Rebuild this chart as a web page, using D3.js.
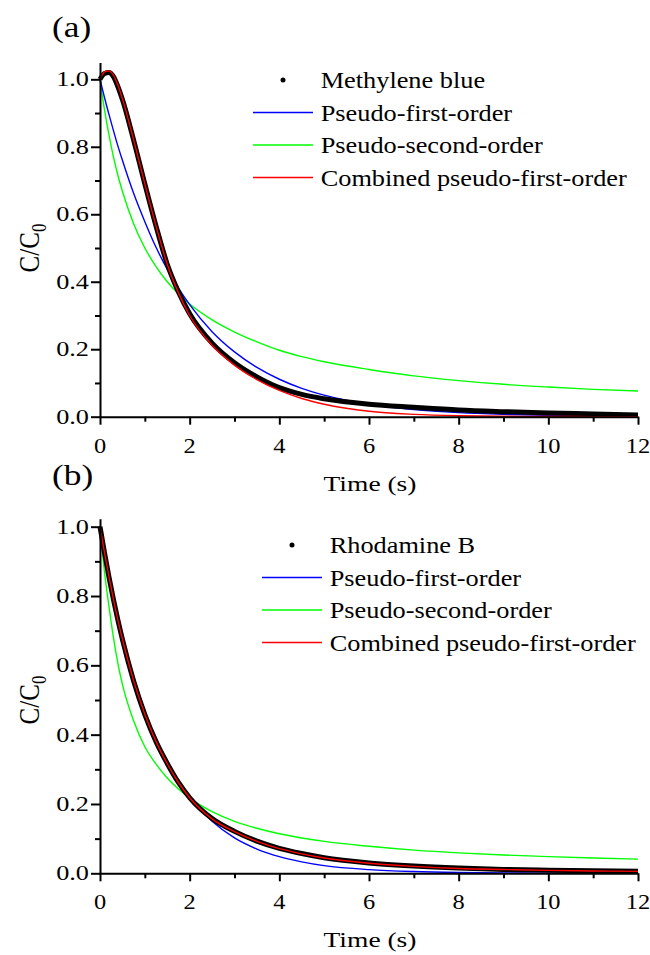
<!DOCTYPE html>
<html>
<head>
<meta charset="utf-8">
<style>
  body { margin: 0; background: #fff; }
  text { font-family: "Liberation Serif", "Times New Roman", serif; fill: #000; }
</style>
</head>
<body>
<svg width="650" height="955"></svg>
<script src="https://d3js.org/d3.v7.min.js"></script>
<script>
// time axis (s)
let time = [0, 0.1, 0.2, 0.3, 0.4, 0.5, 0.75, 1, 1.25, 1.5, 1.75, 2, 2.5, 3, 3.5, 4, 4.5, 5, 6, 7, 8, 9, 10, 11, 12];

// (a) methylene blue
let mbData     = [1.0, 1.017, 1.02, 1.008, 0.978, 0.94, 0.82, 0.69, 0.565, 0.452, 0.37, 0.305, 0.218, 0.16, 0.118, 0.086, 0.066, 0.053, 0.037, 0.028, 0.02, 0.015, 0.011, 0.008, 0.005];
let mbFirst    = [1.0, 0.946, 0.896, 0.848, 0.802, 0.76, 0.662, 0.578, 0.502, 0.437, 0.381, 0.332, 0.252, 0.192, 0.146, 0.111, 0.084, 0.064, 0.037, 0.021, 0.012, 0.007, 0.004, 0.0024, 0.0014];
let mbSecond   = [1.0, 0.91, 0.835, 0.77, 0.715, 0.668, 0.572, 0.5, 0.445, 0.4, 0.364, 0.334, 0.287, 0.251, 0.222, 0.197, 0.178, 0.163, 0.14, 0.121, 0.107, 0.096, 0.088, 0.081, 0.076];
let mbCombined = [1.0, 1.022, 1.025, 1.012, 0.982, 0.942, 0.821, 0.69, 0.565, 0.452, 0.367, 0.3, 0.212, 0.153, 0.11, 0.078, 0.054, 0.037, 0.016, 0.007, 0.003, 0.0015, 0.0007, 0.0003, 0.0001];

// (b) rhodamine B
let rbData     = [1.0, 0.925, 0.855, 0.79, 0.73, 0.675, 0.555, 0.458, 0.38, 0.317, 0.262, 0.218, 0.158, 0.121, 0.093, 0.072, 0.057, 0.045, 0.03, 0.021, 0.015, 0.011, 0.009, 0.007, 0.006];
let rbFirst    = [1.0, 0.927, 0.859, 0.796, 0.738, 0.684, 0.566, 0.468, 0.387, 0.32, 0.264, 0.219, 0.15, 0.102, 0.07, 0.048, 0.033, 0.022, 0.0105, 0.005, 0.0023, 0.0011, 0.0005, 0.0002, 0.0001];
let rbSecond   = [1.0, 0.87, 0.77, 0.68, 0.605, 0.545, 0.44, 0.365, 0.315, 0.275, 0.243, 0.217, 0.178, 0.15, 0.13, 0.114, 0.102, 0.092, 0.078, 0.067, 0.059, 0.053, 0.048, 0.044, 0.041];
let rbCombined = [1.0, 0.926, 0.856, 0.79, 0.73, 0.676, 0.556, 0.459, 0.38, 0.316, 0.262, 0.218, 0.157, 0.12, 0.092, 0.071, 0.056, 0.044, 0.029, 0.02, 0.014, 0.011, 0.0085, 0.0068, 0.0055];

let xTicks = [0, 2, 4, 6, 8, 10, 12];
let xMinor = [1, 3, 5, 7, 9, 11];
let yTicks = [0, 0.2, 0.4, 0.6, 0.8, 1.0];
let yMinor = [0.1, 0.3, 0.5, 0.7, 0.9];
let fitNames = ["Pseudo-first-order", "Pseudo-second-order", "Combined pseudo-first-order"];

let svg = d3.select("svg");
let SX = 1.25;   // the figure is stretched sideways

function label(g, x, y, str, size, anchor, sx) {
    return g.append("text")
        .attr("transform", "translate(" + x + "," + y + ") scale(" + (sx || SX) + ",1)")
        .attr("text-anchor", anchor || "start")
        .style("font-size", size + "px")
        .text(str);
}

let panels = [
    {tag: "(a)", dye: "Methylene blue", data: mbData, first: mbFirst, second: mbSecond, combined: mbCombined,
     bottom: 416.7, unit: 337.4, top: 1.05, legX: 253, legY: 80},
    {tag: "(b)", dye: "Rhodamine B", data: rbData, first: rbFirst, second: rbSecond, combined: rbCombined,
     bottom: 873.3, unit: 346.6, top: 1.023, legX: 262, legY: 545}
];

let x = d3.scaleLinear().domain([0, 12]).range([100, 638]);

panels.forEach(function(p) {
    let g = svg.append("g");
    let y = d3.scaleLinear().domain([0, p.top]).range([p.bottom, p.bottom - p.unit * p.top]);

    let line = d3.line()
        .x(function(d) { return x(d[0]); })
        .y(function(d) { return y(d[1]); })
        .curve(d3.curveMonotoneX);
    let pts = function(arr) { return time.map(function(t, i) { return [t, arr[i]]; }); };

    g.append("path").attr("d", line(pts(p.second))).attr("fill", "none").attr("stroke", "#00ff00").attr("stroke-width", 1.4);
    g.append("path").attr("d", line(pts(p.first))).attr("fill", "none").attr("stroke", "#0000ff").attr("stroke-width", 1.4);
    g.append("path").attr("d", line(pts(p.data))).attr("fill", "none").attr("stroke", "#000").attr("stroke-width", 5);
    g.append("path").attr("d", line(pts(p.combined))).attr("fill", "none").attr("stroke", "#ff0000").attr("stroke-width", 1.4);

    // axes
    g.append("g").attr("transform", "translate(0," + p.bottom + ")")
        .call(d3.axisBottom(x).tickValues(xTicks).tickSize(8).tickSizeOuter(0).tickFormat(""));
    g.append("g").attr("transform", "translate(0," + p.bottom + ")")
        .call(d3.axisBottom(x).tickValues(xMinor).tickSize(5).tickSizeOuter(0).tickFormat(""))
        .select(".domain").remove();
    g.append("g").attr("transform", "translate(100,0)")
        .call(d3.axisLeft(y).tickValues(yTicks).tickSize(9).tickSizeOuter(0).tickFormat(""));
    g.append("g").attr("transform", "translate(100,0)")
        .call(d3.axisLeft(y).tickValues(yMinor).tickSize(5).tickSizeOuter(0).tickFormat(""))
        .select(".domain").remove();
    g.selectAll(".domain, .tick line").attr("stroke", "#000").attr("stroke-width", 2);

    xTicks.forEach(function(t) { label(g, x(t), p.bottom + 36, String(t), 20, "middle", 1.22); });
    yTicks.forEach(function(v) { label(g, 89, y(v) + 7, v.toFixed(1), 21, "end"); });

    label(g, 370, p.bottom + 74, "Time (s)", 22, "middle");
    let yt = g.append("text")
        .attr("transform", "translate(39," + (p.bottom - p.unit * 0.5) + ") rotate(-90) scale(1,1.2)")
        .attr("text-anchor", "middle")
        .style("font-size", "25px");
    yt.append("tspan").text("C/C");
    yt.append("tspan").attr("dy", 6).style("font-size", "17px").text("0");

    label(g, 52, p.bottom - p.unit - 42, p.tag, 29, "start", 1.22);

    // legend
    let rows = [p.legY, p.legY + 32.5, p.legY + 65, p.legY + 97.5];
    g.append("circle").attr("cx", p.legX + 30).attr("cy", rows[0]).attr("r", 2.5).attr("fill", "#000");
    ["#0000ff", "#00ff00", "#ff0000"].forEach(function(c, i) {
        g.append("line").attr("x1", p.legX).attr("x2", p.legX + 60)
            .attr("y1", rows[i + 1]).attr("y2", rows[i + 1])
            .attr("stroke", c).attr("stroke-width", 1.4);
    });
    [p.dye].concat(fitNames).forEach(function(s, i) {
        label(g, p.legX + 67.7, rows[i] + 8, s, 22.5, "start", 1.17);
    });
});
</script>
</body>
</html>
